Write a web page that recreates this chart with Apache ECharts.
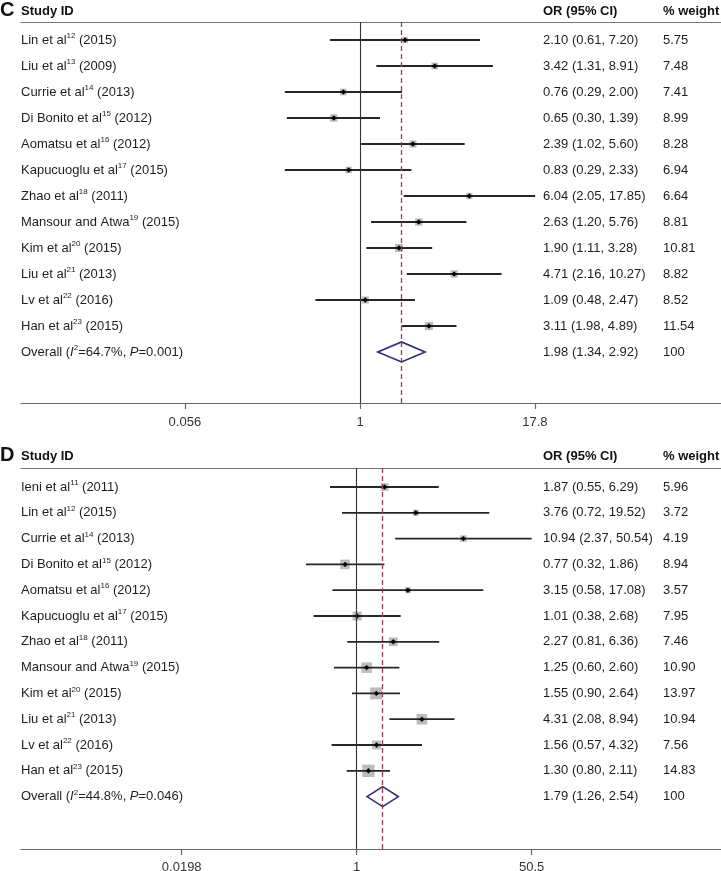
<!DOCTYPE html>
<html>
<head>
<meta charset="utf-8">
<title>Forest plots C and D</title>
<script src="https://cdn.jsdelivr.net/npm/echarts/dist/echarts.min.js"></script>
<style>
  html, body { margin: 0; padding: 0; background: #fff; }
  #main { width: 721px; height: 871px; }
</style>
</head>
<body>
<div id="main"></div>
<script>
"use strict";

// ---- panel C data ----
var studiesC = ['Lin et al', 'Liu et al', 'Currie et al', 'Di Bonito et al', 'Aomatsu et al', 'Kapucuoglu et al',
    'Zhao et al', 'Mansour and Atwa', 'Kim et al', 'Liu et al', 'Lv et al', 'Han et al'];
var refsC = [12, 13, 14, 15, 16, 17, 18, 19, 20, 21, 22, 23];
var yearsC = [2015, 2009, 2013, 2012, 2012, 2015, 2011, 2015, 2015, 2013, 2016, 2015];
var orC = [2.10, 3.42, 0.76, 0.65, 2.39, 0.83, 6.04, 2.63, 1.90, 4.71, 1.09, 3.11];
var lowC = [0.61, 1.31, 0.29, 0.30, 1.02, 0.29, 2.05, 1.20, 1.11, 2.16, 0.48, 1.98];
var highC = [7.20, 8.91, 2.00, 1.39, 5.60, 2.33, 17.85, 5.76, 3.28, 10.27, 2.47, 4.89];
var weightC = [5.75, 7.48, 7.41, 8.99, 8.28, 6.94, 6.64, 8.81, 10.81, 8.82, 8.52, 11.54];
var overallC = [1.98, 1.34, 2.92];   // OR, lower, upper
var hetC = ['64.7%', '0.001'];       // I2, P
var ticksC = [0.056, 1, 17.8];

// ---- panel D data ----
var studiesD = ['Ieni et al', 'Lin et al', 'Currie et al', 'Di Bonito et al', 'Aomatsu et al', 'Kapucuoglu et al',
    'Zhao et al', 'Mansour and Atwa', 'Kim et al', 'Liu et al', 'Lv et al', 'Han et al'];
var refsD = [11, 12, 14, 15, 16, 17, 18, 19, 20, 21, 22, 23];
var yearsD = [2011, 2015, 2013, 2012, 2012, 2015, 2011, 2015, 2015, 2013, 2016, 2015];
var orD = [1.87, 3.76, 10.94, 0.77, 3.15, 1.01, 2.27, 1.25, 1.55, 4.31, 1.56, 1.30];
var lowD = [0.55, 0.72, 2.37, 0.32, 0.58, 0.38, 0.81, 0.60, 0.90, 2.08, 0.57, 0.80];
var highD = [6.29, 19.52, 50.54, 1.86, 17.08, 2.68, 6.36, 2.60, 2.64, 8.94, 4.32, 2.11];
var weightD = [5.96, 3.72, 4.19, 8.94, 3.57, 7.95, 7.46, 10.90, 13.97, 10.94, 7.56, 14.83];
var overallD = [1.79, 1.26, 2.54];
var hetD = ['44.8%', '0.046'];
var ticksD = [0.0198, 1, 50.5];

var FONT = '"Liberation Sans", Arial, Helvetica, sans-serif';
var TEXT_COLOR = '#1e1e1e';

// x axis works on ln(OR) so the scale is logarithmic
function ln(v) { return Math.log(v); }

function fmtCI(or, lo, hi) {
    return or.toFixed(2) + ' (' + lo.toFixed(2) + ', ' + hi.toFixed(2) + ')';
}

var richText = {
    s: { fontSize: 8, verticalAlign: 'top', fontFamily: FONT, color: TEXT_COLOR },
    i: { fontStyle: 'italic', fontSize: 13, fontFamily: FONT, color: TEXT_COLOR }
};

// vertical reference line through the whole grid
function refLine(xi, yi, x, style) {
    return {
        type: 'scatter', xAxisIndex: xi, yAxisIndex: yi, data: [], z: 2,
        markLine: {
            silent: true, symbol: ['none', 'none'], label: { show: false }, animation: false,
            lineStyle: style,
            data: [{ xAxis: x }]
        }
    };
}

// one forest plot = one grid + axes + series
function buildPanel(option, d, L) {
    var n = d.studies.length;
    var gi = option.grid.length;
    var xi = option.xAxis.length;
    var yi = option.yAxis.length;

    option.grid.push({
        left: 21, top: L.top, width: 700, height: L.height,
        containLabel: false, outerBoundsMode: 'none'
    });

    var tickLn = d.ticks.map(ln);
    option.xAxis.push({
        gridIndex: gi, type: 'value', position: 'bottom', min: L.xMin, max: L.xMax,
        axisLine: { show: true, onZero: false, lineStyle: { color: '#666', width: 1.2 } },
        axisTick: { show: true, length: 6, customValues: tickLn, lineStyle: { color: '#666', width: 1.2 } },
        axisLabel: {
            customValues: tickLn, margin: L.labelMargin, fontSize: 13, fontFamily: FONT, color: '#333',
            formatter: function (v) {
                var best = 0;
                for (var k = 1; k < tickLn.length; k++) {
                    if (Math.abs(tickLn[k] - v) < Math.abs(tickLn[best] - v)) best = k;
                }
                return String(d.ticks[best]);
            }
        },
        splitLine: { show: false }
    });
    // header rule under "Study ID"
    option.xAxis.push({
        gridIndex: gi, type: 'value', position: 'top', min: 0, max: 1,
        axisLine: { show: true, onZero: false, lineStyle: { color: '#777', width: 1.2 } },
        axisTick: { show: false }, axisLabel: { show: false }, splitLine: { show: false }
    });

    var rows = [];
    for (var r = 0; r <= n; r++) rows.push(r);

    var nameText = [];
    var ciText = [];
    var wText = [];
    for (var i = 0; i < n; i++) {
        nameText.push(d.studies[i] + '{s|' + d.refs[i] + '} (' + d.years[i] + ')');
        ciText.push(fmtCI(d.or[i], d.low[i], d.high[i]));
        wText.push(d.weight[i].toFixed(2));
    }
    nameText.push('Overall ({i|I}{s|2}=' + d.het[0] + ', {i|P}=' + d.het[1] + ')');
    ciText.push(fmtCI(d.overall[0], d.overall[1], d.overall[2]));
    wText.push('100');

    function textAxis(offset, texts) {
        return {
            gridIndex: gi, type: 'value', position: 'left', offset: offset, inverse: true,
            min: L.yMin, max: L.yMax,
            axisLine: { show: false, onZero: false }, axisTick: { show: false }, splitLine: { show: false },
            axisLabel: {
                inside: true, margin: 0, align: 'left', customValues: rows,
                fontSize: 13, fontFamily: FONT, color: TEXT_COLOR, lineHeight: 16, rich: richText,
                formatter: function (v) { return texts[Math.round(v)]; }
            }
        };
    }
    option.yAxis.push(textAxis(0, nameText));
    option.yAxis.push(textAxis(-(L.orX - 21), ciText));
    option.yAxis.push(textAxis(-(L.wX - 21), wText));

    var studyData = [];
    for (var j = 0; j < n; j++) {
        studyData.push([ln(d.low[j]), ln(d.high[j]), ln(d.or[j]), j, d.weight[j]]);
    }

    option.series.push({
        type: 'custom', xAxisIndex: xi, yAxisIndex: yi, silent: true, z: 3,
        encode: { x: [0, 1, 2], y: 3 },
        data: studyData,
        renderItem: function (params, api) {
            var lo = api.coord([api.value(0), api.value(3)]);
            var hi = api.coord([api.value(1), api.value(3)]);
            var mid = api.coord([api.value(2), api.value(3)]);
            var s = L.boxScale * Math.sqrt(api.value(4));
            var p = 2.7;
            return {
                type: 'group',
                children: [
                    { type: 'rect', shape: { x: mid[0] - s / 2, y: mid[1] - s / 2, width: s, height: s },
                        style: { fill: '#bcbcbc' } },
                    { type: 'line', shape: { x1: lo[0], y1: lo[1], x2: hi[0], y2: hi[1] },
                        style: { stroke: '#262626', lineWidth: 1.8 } },
                    { type: 'polygon',
                        shape: { points: [[mid[0] - p, mid[1]], [mid[0], mid[1] - p], [mid[0] + p, mid[1]], [mid[0], mid[1] + p]] },
                        style: { fill: '#000' } }
                ]
            };
        }
    });

    // pooled estimate diamond
    option.series.push({
        type: 'custom', xAxisIndex: xi, yAxisIndex: yi, silent: true, z: 3,
        encode: { x: [0, 1, 2], y: 3 },
        data: [[ln(d.overall[1]), ln(d.overall[2]), ln(d.overall[0]), n]],
        renderItem: function (params, api) {
            var lo = api.coord([api.value(0), api.value(3)]);
            var hi = api.coord([api.value(1), api.value(3)]);
            var mid = api.coord([api.value(2), api.value(3)]);
            var h = 10;
            return {
                type: 'polygon',
                shape: { points: [lo, [mid[0], mid[1] - h], hi, [mid[0], mid[1] + h]] },
                style: { fill: 'none', stroke: '#2b2b78', lineWidth: 1.6 }
            };
        }
    });

    // no-effect line and dashed line at the pooled OR
    option.series.push(refLine(xi, yi, 0, { color: '#333', width: 1.1, type: 'solid' }));
    option.series.push(refLine(xi, yi, ln(d.overall[0]), { color: '#a8344c', width: 1.3, type: [5, 3] }));

    // headers
    var hdr = { fontSize: 13, fontWeight: 'bold', fontFamily: FONT, fill: '#111', verticalAlign: 'middle' };
    option.graphic.push({ type: 'text', x: 0, y: L.letterY,
        style: Object.assign({}, hdr, { text: L.letter, fontSize: 20 }) });
    option.graphic.push({ type: 'text', x: 21, y: L.headY, style: Object.assign({}, hdr, { text: 'Study ID' }) });
    option.graphic.push({ type: 'text', x: L.orX, y: L.headY, style: Object.assign({}, hdr, { text: 'OR (95% CI)' }) });
    option.graphic.push({ type: 'text', x: L.wX, y: L.headY, style: Object.assign({}, hdr, { text: '% weight' }) });
}

var option = {
    backgroundColor: '#fff',
    animation: false,
    grid: [], xAxis: [], yAxis: [], series: [], graphic: []
};

buildPanel(option,
    { studies: studiesC, refs: refsC, years: yearsC, or: orC, low: lowC, high: highC,
        weight: weightC, overall: overallC, het: hetC, ticks: ticksC },
    { letter: 'C', letterY: 10, headY: 11, top: 22, height: 381,
        xMin: -5.579, xMax: 5.941, yMin: -0.692, yMax: 13.962,
        boxScale: 2.45, labelMargin: 13, orX: 543, wX: 663 });

buildPanel(option,
    { studies: studiesD, refs: refsD, years: yearsD, or: orD, low: lowD, high: highD,
        weight: weightD, overall: overallD, het: hetD, ticks: ticksD },
    { letter: 'D', letterY: 455, headY: 456.5, top: 468, height: 381,
        xMin: -7.524, xMax: 8.165, yMin: -0.736, yMax: 14.03,
        boxScale: 3.2, labelMargin: 12, orX: 543, wX: 663 });

var chart = echarts.init(document.getElementById('main'), null, { renderer: 'canvas' });
chart.setOption(option);
</script>
</body>
</html>
